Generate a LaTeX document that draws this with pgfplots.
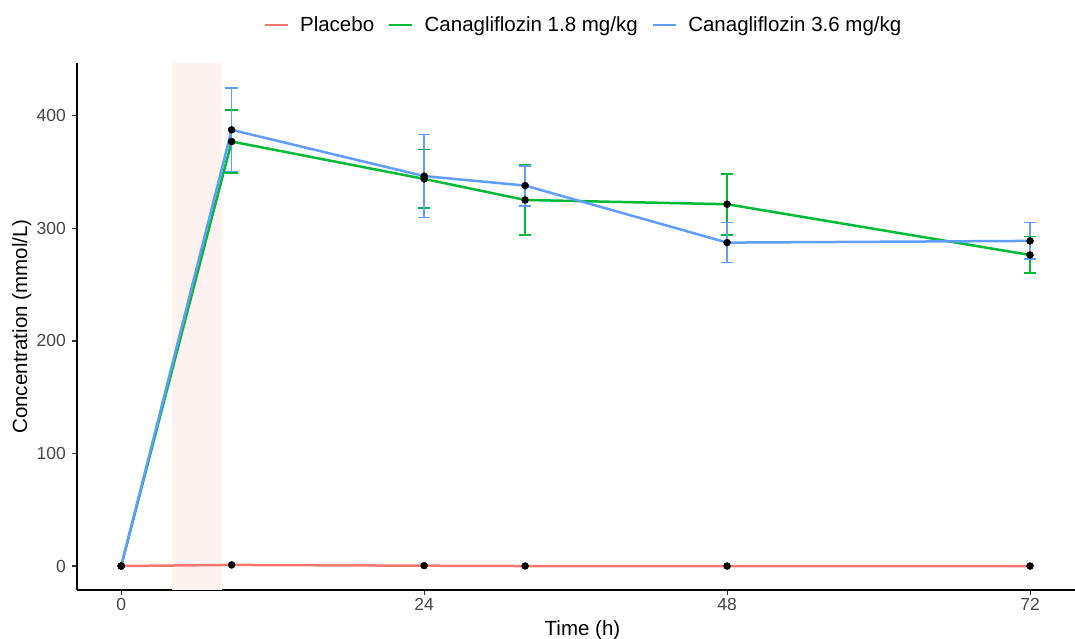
\documentclass[border=0pt]{standalone}
\usepackage{pgfplots}
\usepackage{pgfplotstable}
\pgfplotsset{compat=1.18}
\usepackage{fontspec}
\setmainfont{Liberation Sans}
\definecolor{plac}{HTML}{F8766D}
\definecolor{lowdose}{HTML}{00BA38}
\definecolor{highdose}{HTML}{619CFF}
\definecolor{band}{HTML}{FEF2F1}

% mean concentration by time, with upper/lower error bar lengths
\pgfplotstableread{
x y
0 0.0
8.75 1.0
24 0.3
32 0.0
48 0.0
72 0.0
}\placebo
\pgfplotstableread{
x y
0 0
8.75 377.2
24 344.0
32 325.3
48 321.5
72 276.4
}\lowdose
\pgfplotstableread{
x y
0 0
8.75 387.6
24 346.5
32 338.1
48 287.4
72 288.9
}\highdose
\pgfplotstableread{
x y ep em
8.75 377.2 28.1 28.2
24 344.0 26.0 26.0
32 325.3 31.6 31.3
48 321.5 26.7 27.3
72 276.4 16.3 16.2
}\lowerr
\pgfplotstableread{
x y ep em
8.75 387.6 37.0 37.1
24 346.5 36.9 36.9
32 338.1 17.5 18.1
48 287.4 17.8 17.8
72 288.9 16.3 16.3
}\higherr

\begin{document}
\begin{tikzpicture}
\useasboundingbox (-77pt,-48pt) rectangle (998pt,590pt);
\begin{axis}[
  at={(0pt,0pt)}, anchor=south west,
  scale only axis, width=998pt, height=527pt,
  xmin=-3.5, xmax=75.56, ymin=-21.3, ymax=447,
  axis x line*=bottom, axis y line*=left,
  axis line style={-, line width=1.4pt, black},
  xtick={0,24,48,72}, ytick={0,100,200,300,400},
  /pgf/number format/assume math mode=true,
  tick align=outside, major tick length=4.5pt,
  tick style={black!80, line width=1.1pt},
  ticklabel style={font=\fontsize{17.5}{18}\selectfont, text=black!72, inner sep=0pt},
  yticklabel style={xshift=-6.5pt},
  xticklabel style={yshift=-3.5pt},
  xlabel={Time (h)}, ylabel={Concentration (mmol/L)},
  label style={font=\fontsize{20.5}{21}\selectfont},
  x label style={at={(axis description cs:0.5065,-0.0854)}, anchor=base},
  y label style={at={(axis description cs:-0.0501,0.5)}, anchor=base},
  legend columns=3,
  legend image code/.code={\draw[#1] (0pt,0pt) -- (23pt,0pt);},
  legend style={at={(axis description cs:0.5065,1.072)}, anchor=center,
    draw=none, fill=none, inner sep=0pt,
    font=\fontsize{20.5}{21}\selectfont,
    nodes={inner sep=0pt},
    /tikz/every odd column/.append style={column sep=11pt},
    /tikz/every even column/.append style={column sep=14pt}},
]
\addplot[fill=band, draw=none, forget plot] coordinates {(4,-21.3) (4,447) (8,447) (8,-21.3)} -- cycle;

\addplot[plac, line width=2.5pt, mark=none] table[x=x,y=y] {\placebo};
\addplot[lowdose, line width=2.5pt, mark=none] table[x=x,y=y] {\lowdose};
\addplot[highdose, line width=2.5pt, mark=none] table[x=x,y=y] {\highdose};
\legend{Placebo,Canagliflozin 1.8 mg/kg,Canagliflozin 3.6 mg/kg}

\addplot[lowdose, forget plot, only marks, mark=none,
  error bars/.cd, y dir=both, y explicit,
  error bar style={lowdose, line width=1.6pt},
  error mark options={rotate=90, lowdose, mark size=6.3pt, line width=1.6pt}]
  table[x=x, y=y, y error plus=ep, y error minus=em] {\lowerr};
\addplot[highdose, forget plot, only marks, mark=none,
  error bars/.cd, y dir=both, y explicit,
  error bar style={highdose, line width=1.6pt},
  error mark options={rotate=90, highdose, mark size=6.3pt, line width=1.6pt}]
  table[x=x, y=y, y error plus=ep, y error minus=em] {\higherr};

\addplot[only marks, mark=*, mark size=3.5pt, black, forget plot] table[x=x,y=y] {\placebo};
\addplot[only marks, mark=*, mark size=3.5pt, black, forget plot] table[x=x,y=y] {\lowdose};
\addplot[only marks, mark=*, mark size=3.5pt, black, forget plot] table[x=x,y=y] {\highdose};
\end{axis}
\end{tikzpicture}
\end{document}
